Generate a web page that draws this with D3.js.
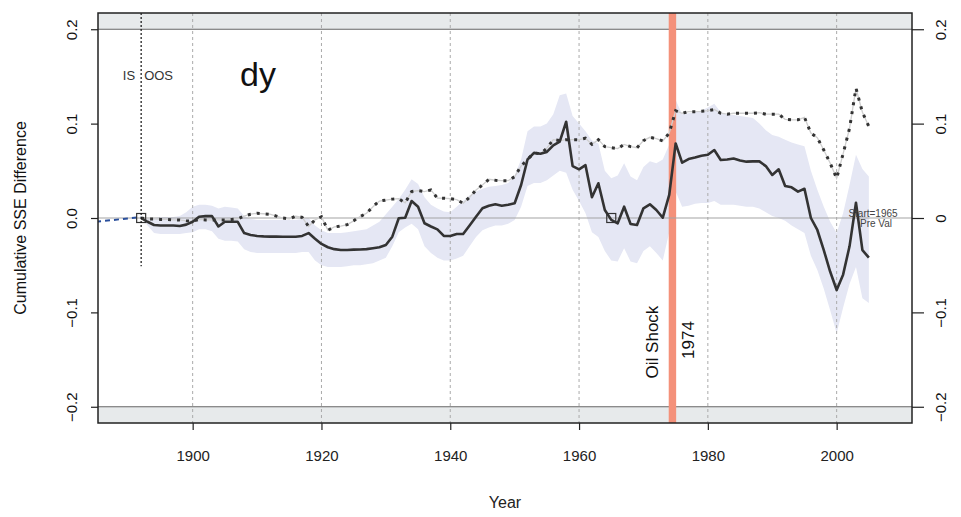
<!DOCTYPE html>
<html>
<head>
<meta charset="utf-8">
<script src="https://cdn.jsdelivr.net/npm/d3@7"></script>
<style>
  body { margin: 0; background: #fff; }
  svg text { font-family: "Liberation Sans", Arial, Helvetica, sans-serif; }
</style>
</head>
<body>
<svg id="chart" width="961" height="517"></svg>
<script>
// Annual observations, first out-of-sample year through last year
const years = d3.range(1892, 2006);

// Cumulative SSE difference, out-of-sample forecast (solid)
const oosDiff = [
  0, -0.004, -0.0074, -0.008, -0.008, -0.008, -0.0085, -0.007,             // 1892-1899
  -0.004, 0.0014, 0.002, 0.002, -0.009, -0.004, -0.004, -0.004, -0.016, -0.018, // 1900-1909
  -0.019, -0.0195, -0.0197, -0.0197, -0.0198, -0.0198, -0.0198, -0.019, -0.016, -0.022, // 1910-1919
  -0.0275, -0.031, -0.033, -0.0339, -0.0339, -0.0335, -0.0333, -0.033, -0.032, -0.031, // 1920-1929
  -0.0286, -0.0198, -0.0003, 0.0003, 0.018, 0.012, -0.0056, -0.009, -0.012, -0.019, // 1930-1939
  -0.019, -0.017, -0.017, -0.008, 0.0014, 0.0103, 0.013, 0.0145, 0.013, 0.014,   // 1940-1949
  0.0156, 0.035, 0.062, 0.069, 0.068, 0.070, 0.077, 0.081, 0.102, 0.055,        // 1950-1959
  0.0516, 0.056, 0.022, 0.0368, 0.0085, -0.002, -0.0056, 0.012, -0.0064, -0.0074, // 1960-1969
  0.0103, 0.0145, 0.0085, 0.0003, 0.0244, 0.079, 0.0586, 0.0625, 0.064, 0.066,  // 1970-1979
  0.067, 0.072, 0.0615, 0.062, 0.063, 0.061, 0.0597, 0.060, 0.060, 0.055,       // 1980-1989
  0.0456, 0.0516, 0.034, 0.0325, 0.0279, 0.031, 0, -0.0127, -0.034, -0.057,     // 1990-1999
  -0.0763, -0.060, -0.030, 0.0162, -0.034, -0.042                               // 2000-2005
];

// Cumulative SSE difference, in-sample fit (dotted)
const isDiff = [
  0, -0.001, -0.001, -0.0015, -0.0015, -0.002, -0.002, -0.003,              // 1892-1899
  -0.0035, -0.0015, -0.002, -0.002, -0.002, -0.002, -0.0015, -0.001, 0.002, 0.004, // 1900-1909
  0.005, 0.0045, 0.004, 0.002, 0.0, -0.001, 0.002, 0.0007, -0.009, -0.002,      // 1910-1919
  0.0014, -0.013, -0.0095, -0.0085, -0.007, -0.003, 0.0014, 0.005, 0.012, 0.018, // 1920-1929
  0.019, 0.020, 0.0205, 0.016, 0.028, 0.029, 0.028, 0.0297, 0.021, 0.0209,      // 1930-1939
  0.0205, 0.0195, 0.0156, 0.022, 0.0297, 0.035, 0.041, 0.040, 0.0395, 0.0395,   // 1940-1949
  0.0438, 0.055, 0.062, 0.069, 0.068, 0.074, 0.083, 0.082, 0.083, 0.083,       // 1950-1959
  0.083, 0.0845, 0.078, 0.083, 0.0756, 0.0745, 0.0735, 0.078, 0.0756, 0.0745,  // 1960-1969
  0.082, 0.0855, 0.084, 0.0816, 0.090, 0.1137, 0.111, 0.1127, 0.1127, 0.113,   // 1970-1979
  0.1137, 0.115, 0.111, 0.110, 0.111, 0.111, 0.111, 0.111, 0.1116, 0.110,      // 1980-1989
  0.110, 0.110, 0.1046, 0.104, 0.104, 0.1067, 0.090, 0.085, 0.072, 0.058,      // 1990-1999
  0.042, 0.068, 0.095, 0.1375, 0.112, 0.097                                    // 2000-2005
];

// Confidence band around the out-of-sample path
const bandLower = [
  0, -0.008, -0.016, -0.017, -0.017, -0.017, -0.017, -0.016,
  -0.015, -0.012, -0.012, -0.014, -0.022, -0.024, -0.024, -0.025, -0.033, -0.036,
  -0.037, -0.037, -0.037, -0.037, -0.037, -0.037, -0.037, -0.036, -0.036, -0.045,
  -0.050, -0.052, -0.052, -0.052, -0.051, -0.050, -0.050, -0.049, -0.048, -0.045,
  -0.042, -0.030, -0.015, -0.010, -0.006, -0.012, -0.030, -0.037, -0.042, -0.045,
  -0.045, -0.043, -0.040, -0.030, -0.020, -0.013, -0.010, -0.008, -0.008, -0.006,
  -0.002, 0.012, 0.034, 0.037, 0.037, 0.040, 0.045, 0.050, 0.048, 0.030,
  0.018, 0.005, -0.015, -0.020, -0.035, -0.045, -0.046, -0.032, -0.046, -0.048,
  -0.035, -0.030, -0.037, -0.045, -0.015, 0.028, 0.012, 0.013, 0.015, 0.016,
  0.016, 0.018, 0.014, 0.014, 0.014, 0.013, 0.012, 0.012, 0.010, 0.006,
  0.002, 0.000, -0.003, -0.008, -0.012, -0.016, -0.040, -0.055, -0.075, -0.098,
  -0.122, -0.095, -0.070, -0.052, -0.085, -0.090
];
const bandUpper = [
  0, 0.000, 0.000, 0.001, 0.001, 0.001, 0.002, 0.006,
  0.012, 0.014, 0.014, 0.013, 0.010, 0.012, 0.011, 0.010, 0.002, -0.001,
  -0.002, -0.002, -0.002, -0.002, -0.002, -0.002, -0.002, -0.001, 0.000, -0.008,
  -0.013, -0.016, -0.016, -0.016, -0.015, -0.014, -0.013, -0.012, -0.008, -0.004,
  0.004, 0.012, 0.020, 0.030, 0.041, 0.036, 0.022, 0.014, 0.010, 0.007,
  0.006, 0.012, 0.018, 0.024, 0.028, 0.031, 0.033, 0.034, 0.035, 0.037,
  0.045, 0.062, 0.092, 0.097, 0.097, 0.100, 0.110, 0.130, 0.132, 0.108,
  0.100, 0.092, 0.082, 0.079, 0.050, 0.042, 0.045, 0.058, 0.044, 0.040,
  0.054, 0.060, 0.058, 0.062, 0.078, 0.125, 0.110, 0.111, 0.112, 0.114,
  0.117, 0.121, 0.112, 0.109, 0.109, 0.108, 0.107, 0.106, 0.100, 0.093,
  0.088, 0.086, 0.083, 0.080, 0.078, 0.076, 0.050, 0.030, 0.012, -0.004,
  -0.016, 0.005, 0.035, 0.067, 0.052, 0.044
];

// Pre-sample stretch drawn dashed in blue
const preYears = [1885, 1892];
const preDiff = [-0.004, 0.001];

// Reference marks and annotations
const splitYear = 1892;        // IS | OOS boundary
const preValYear = 1965;       // start of the pre-validation window
const shockYear = 1974;        // oil shock
const xTicks = [1900, 1920, 1940, 1960, 1980, 2000];
const yTicks = [-0.2, -0.1, 0, 0.1, 0.2];
const yLabelsLeft = ["\u22120.2", "\u22120.1", "0.0", "0.1", "0.2"];
const yLabelsRight = ["\u22120.2", "\u22120.1", "0", "0.1", "0.2"];
const yLimit = 0.2;

const svg = d3.select("#chart");
const box = { left: 98, right: 912, top: 13, bottom: 423 };

const x = d3.scaleLinear().domain([1885.3, 2011.7]).range([box.left, box.right]);
const y = d3.scaleLinear().domain([-0.2172, 0.2172]).range([box.bottom, box.top]);

const rows = years.map((yr, i) => ({
  year: yr, oos: oosDiff[i], is: isDiff[i], lo: bandLower[i], hi: bandUpper[i]
}));

svg.append("defs").append("clipPath").attr("id", "plotClip")
  .append("rect").attr("x", box.left).attr("y", box.top)
  .attr("width", box.right - box.left).attr("height", box.bottom - box.top);

const plot = svg.append("g").attr("clip-path", "url(#plotClip)");

// Shaded margins beyond +/-0.2
plot.append("rect").attr("x", box.left).attr("y", box.top)
  .attr("width", box.right - box.left).attr("height", y(yLimit) - box.top)
  .attr("fill", "#e7eaeb");
plot.append("rect").attr("x", box.left).attr("y", y(-yLimit))
  .attr("width", box.right - box.left).attr("height", box.bottom - y(-yLimit))
  .attr("fill", "#e7eaeb");
[yLimit, -yLimit].forEach(v => {
  plot.append("line").attr("x1", box.left).attr("x2", box.right)
    .attr("y1", y(v)).attr("y2", y(v)).attr("stroke", "#666").attr("stroke-width", 1.2);
});

// Confidence band
plot.append("path").datum(rows)
  .attr("d", d3.area().x(d => x(d.year)).y0(d => y(d.lo)).y1(d => y(d.hi)))
  .attr("fill", "#e5e7f4");

// Vertical grid
plot.selectAll("line.grid").data(xTicks).join("line").attr("class", "grid")
  .attr("x1", d => x(d)).attr("x2", d => x(d))
  .attr("y1", box.top).attr("y2", box.bottom)
  .attr("stroke", "#aaaaaa").attr("stroke-width", 1).attr("stroke-dasharray", "3,3");

// Oil shock bar
plot.append("rect")
  .attr("x", x(shockYear) - 0.5).attr("width", x(shockYear + 1) - x(shockYear) + 1)
  .attr("y", box.top).attr("height", box.bottom - box.top)
  .attr("fill", "#f4917a");

// Zero line
plot.append("line").attr("x1", box.left).attr("x2", box.right)
  .attr("y1", y(0)).attr("y2", y(0)).attr("stroke", "#a3a3a3").attr("stroke-width", 1.2);

// Pre-sample dashed segment
plot.append("path")
  .datum(preYears.map((yr, i) => [yr, preDiff[i]]))
  .attr("d", d3.line().x(d => x(d[0])).y(d => y(d[1])))
  .attr("fill", "none").attr("stroke", "#2a4f9c").attr("stroke-width", 2)
  .attr("stroke-dasharray", "5,4");

// In-sample path: thin grey line with heavy dots on top
const isLine = d3.line().x(d => x(d.year)).y(d => y(d.is));
plot.append("path").datum(rows).attr("d", isLine)
  .attr("fill", "none").attr("stroke", "#cfcfcf").attr("stroke-width", 1.3);
plot.append("path").datum(rows).attr("d", isLine)
  .attr("fill", "none").attr("stroke", "#333").attr("stroke-width", 3)
  .attr("stroke-dasharray", "3,6");

// Out-of-sample path
plot.append("path").datum(rows)
  .attr("d", d3.line().x(d => x(d.year)).y(d => y(d.oos)))
  .attr("fill", "none").attr("stroke", "#333").attr("stroke-width", 2.6)
  .attr("stroke-linejoin", "round");

// Square markers at the split and the pre-validation start
[splitYear, preValYear].forEach(yr => {
  plot.append("rect").attr("x", x(yr) - 4.5).attr("y", y(0) - 4.5)
    .attr("width", 9).attr("height", 9)
    .attr("fill", "none").attr("stroke", "#333").attr("stroke-width", 1.2);
});

// IS | OOS divider
plot.append("line").attr("x1", x(splitYear)).attr("x2", x(splitYear))
  .attr("y1", box.top).attr("y2", y(-0.051))
  .attr("stroke", "#111").attr("stroke-width", 1.2).attr("stroke-dasharray", "2,2");

// Annotations
svg.append("text").attr("x", x(splitYear) - 6).attr("y", 79.5)
  .attr("text-anchor", "end").attr("font-size", 13).attr("fill", "#333").text("IS");
svg.append("text").attr("x", x(splitYear) + 3).attr("y", 79.5)
  .attr("text-anchor", "start").attr("font-size", 13).attr("fill", "#333").text("OOS");
svg.append("text").attr("x", 258).attr("y", 86)
  .attr("text-anchor", "middle").attr("font-size", 34).attr("fill", "#111").text("dy");

svg.append("text").attr("transform", `translate(${x(shockYear) - 11},342) rotate(-90)`)
  .attr("text-anchor", "middle").attr("font-size", 17).attr("fill", "#111").text("Oil Shock");
svg.append("text").attr("transform", `translate(${x(shockYear + 1) + 18},340) rotate(-90)`)
  .attr("text-anchor", "middle").attr("font-size", 17).attr("fill", "#111").text(String(shockYear));

svg.append("text").attr("x", 873).attr("y", 216.5)
  .attr("text-anchor", "middle").attr("font-size", 10).attr("fill", "#444").text("Start=" + preValYear);
svg.append("text").attr("x", 876).attr("y", 227)
  .attr("text-anchor", "middle").attr("font-size", 10).attr("fill", "#444").text("Pre Val");

// Plot frame
svg.append("rect").attr("x", box.left).attr("y", box.top)
  .attr("width", box.right - box.left).attr("height", box.bottom - box.top)
  .attr("fill", "none").attr("stroke", "#222").attr("stroke-width", 1.5);

// Axes
const axL = svg.append("g").attr("transform", `translate(${box.left},0)`)
  .call(d3.axisLeft(y).tickValues(yTicks).tickSize(7).tickPadding(0)
    .tickFormat((d, i) => yLabelsLeft[i]));
axL.select(".domain").remove();
axL.selectAll("line").attr("stroke", "#222").attr("stroke-width", 1.2);
axL.selectAll("text").attr("font-size", 15).attr("fill", "#111")
  .attr("text-anchor", "middle").attr("x", null).attr("dy", null)
  .attr("transform", "translate(-26,0) rotate(-90) translate(0,5)");

const axR = svg.append("g").attr("transform", `translate(${box.right},0)`)
  .call(d3.axisRight(y).tickValues(yTicks).tickSize(12).tickPadding(0)
    .tickFormat((d, i) => yLabelsRight[i]));
axR.select(".domain").remove();
axR.selectAll("line").attr("stroke", "#222").attr("stroke-width", 1.2);
axR.selectAll("text").attr("font-size", 15).attr("fill", "#111")
  .attr("text-anchor", "middle").attr("x", null).attr("dy", null)
  .attr("transform", "translate(29,0) rotate(-90) translate(0,5)");

const axB = svg.append("g").attr("transform", `translate(0,${box.bottom})`)
  .call(d3.axisBottom(x).tickValues(xTicks).tickSize(7).tickPadding(0)
    .tickFormat(d3.format("d")));
axB.select(".domain").remove();
axB.selectAll("line").attr("stroke", "#222").attr("stroke-width", 1.2);
axB.selectAll("text").attr("font-size", 15).attr("fill", "#222")
  .attr("y", 38).attr("dy", null);

// Axis titles
svg.append("text").attr("x", 505).attr("y", 508)
  .attr("text-anchor", "middle").attr("font-size", 16).attr("fill", "#222").text("Year");
svg.append("text").attr("transform", "translate(26,218) rotate(-90)")
  .attr("text-anchor", "middle").attr("font-size", 16).attr("fill", "#111")
  .text("Cumulative SSE Difference");
</script>
</body>
</html>
